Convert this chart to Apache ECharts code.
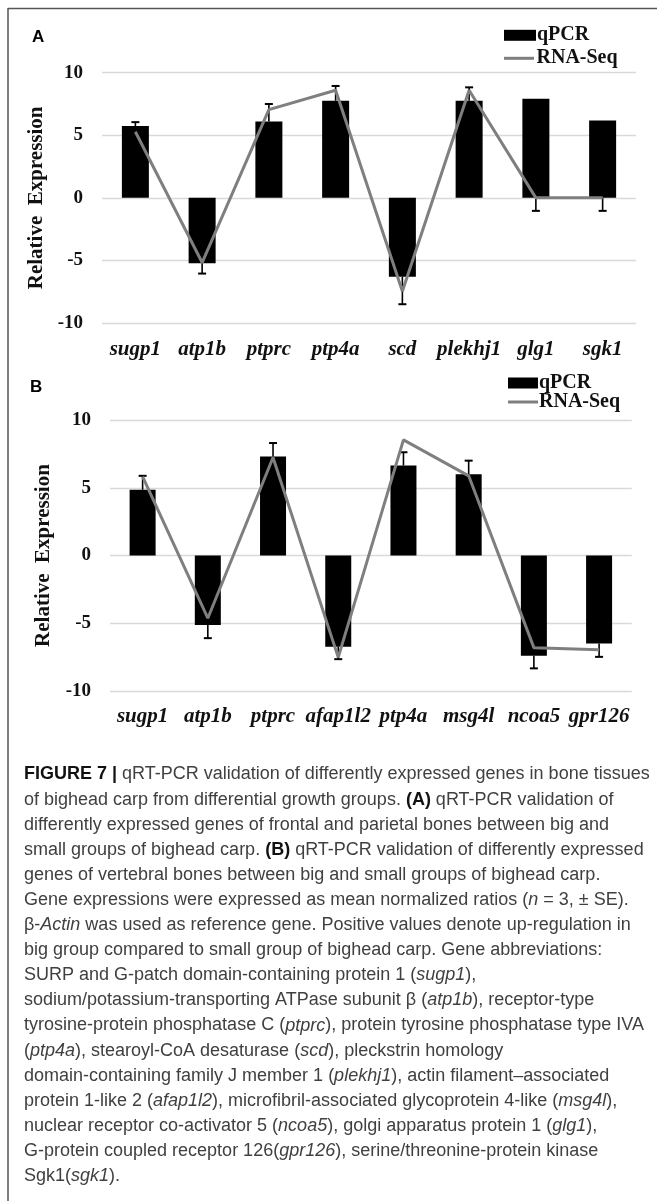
<!DOCTYPE html>
<html>
<head>
<meta charset="utf-8">
<script src="https://cdn.jsdelivr.net/npm/echarts@6.0.0/dist/echarts.min.js"></script>
<style>
  html, body { margin: 0; padding: 0; background: #fff; }
  #chart { width: 657px; height: 1201px; }
</style>
</head>
<body>
<div id="chart"></div>
<script>
// Panel A: frontal and parietal bones
const genesA = ['sugp1', 'atp1b', 'ptprc', 'ptp4a', 'scd', 'plekhj1', 'glg1', 'sgk1'];
const qpcrA = [5.74, -5.22, 6.1, 7.76, -6.3, 7.76, 7.92, 6.19];
const rnaSeqA = [5.28, -5.17, 7.05, 8.6, -7.46, 8.6, 0, 0];
const errFromA = [5.74, -5.22, 6.1, 7.76, -6.3, 7.76, 0, 0];
const errToA = [6.05, -6.05, 7.5, 8.94, -8.5, 8.83, -1.04, -1.04];

// Panel B: vertebral bones
const genesB = ['sugp1', 'atp1b', 'ptprc', 'afap1l2', 'ptp4a', 'msg4l', 'ncoa5', 'gpr126'];
const qpcrB = [4.85, -5.12, 7.3, -6.74, 6.64, 6.0, -7.4, -6.5];
const rnaSeqB = [5.83, -4.63, 7.23, -7.52, 8.53, 5.88, -6.8, -6.95];
const errFromB = qpcrB.slice();
const errToB = [5.88, -6.1, 8.3, -7.65, 7.62, 7.0, -8.33, -7.48];

const yTicks = { min: -10, max: 10, interval: 5 };
const yTitle = 'Relative  Expression';

const captionLines = [
  '{b|FIGURE 7 |} qRT-PCR validation of differently expressed genes in bone tissues',
  'of bighead carp from differential growth groups. {b|(A)} qRT-PCR validation of',
  'differently expressed genes of frontal and parietal bones between big and',
  'small groups of bighead carp. {b|(B)} qRT-PCR validation of differently expressed',
  'genes of vertebral bones between big and small groups of bighead carp.',
  'Gene expressions were expressed as mean normalized ratios ({i|n} = 3, \u00b1 SE).',
  '\u03b2-{i|Actin} was used as reference gene. Positive values denote up-regulation in',
  'big group compared to small group of bighead carp. Gene abbreviations:',
  'SURP and G-patch domain-containing protein 1 ({i|sugp1}),',
  'sodium/potassium-transporting ATPase subunit \u03b2 ({i|atp1b}), receptor-type',
  'tyrosine-protein phosphatase C ({i|ptprc}), protein tyrosine phosphatase type IVA',
  '({i|ptp4a}), stearoyl-CoA desaturase ({i|scd}), pleckstrin homology',
  'domain-containing family J member 1 ({i|plekhj1}), actin filament\u2013associated',
  'protein 1-like 2 ({i|afap1l2}), microfibril-associated glycoprotein 4-like ({i|msg4l}),',
  'nuclear receptor co-activator 5 ({i|ncoa5}), golgi apparatus protein 1 ({i|glg1}),',
  'G-protein coupled receptor 126({i|gpr126}), serine/threonine-protein kinase',
  'Sgk1({i|sgk1}).'
];

const SERIF = '"Liberation Serif", "Times New Roman", serif';
const CAPTION_FONT = '"Liberation Sans", Arial, sans-serif';
const GRID_GRAY = '#d9d9d9';
const LINE_GRAY = '#7f7f7f';

function yAxisFor(gridIndex, nameGap) {
  return {
    gridIndex, type: 'value', min: yTicks.min, max: yTicks.max, interval: yTicks.interval,
    name: yTitle, nameLocation: 'middle', nameGap,
    nameTextStyle: { fontFamily: SERIF, fontWeight: 'bold', fontSize: 21, color: '#111' },
    axisLine: { show: false }, axisTick: { show: false },
    axisLabel: { fontFamily: SERIF, fontWeight: 'bold', fontSize: 19, color: '#111', margin: 19 },
    splitLine: { lineStyle: { color: GRID_GRAY, width: 1.3 } }
  };
}

function xAxisFor(gridIndex, cats, margin) {
  return {
    gridIndex, type: 'category', data: cats, position: 'bottom',
    axisLine: { show: false }, axisTick: { show: false },
    axisLabel: { fontFamily: SERIF, fontWeight: 'bold', fontStyle: 'italic', fontSize: 21, color: '#111', margin, interval: 0 }
  };
}

// Error bar: vertical stem from the mark end to the cap
function errorSeries(idx, from, to) {
  return {
    type: 'custom', xAxisIndex: idx, yAxisIndex: idx, z: 3,
    data: from.map((v, i) => [i, v, to[i]]),
    renderItem(params, api) {
      const a = api.coord([api.value(0), api.value(1)]);
      const b = api.coord([api.value(0), api.value(2)]);
      const half = 4;
      return {
        type: 'group',
        children: [
          { type: 'line', shape: { x1: a[0], y1: a[1], x2: b[0], y2: b[1] }, style: { stroke: '#000', lineWidth: 1.6 } },
          { type: 'line', shape: { x1: b[0] - half, y1: b[1], x2: b[0] + half, y2: b[1] }, style: { stroke: '#000', lineWidth: 2 } }
        ]
      };
    }
  };
}

function barSeries(idx, data, width) {
  return { type: 'bar', name: 'qPCR', xAxisIndex: idx, yAxisIndex: idx, data, barWidth: width, itemStyle: { color: '#000' }, z: 2 };
}

function lineSeries(idx, data) {
  return {
    type: 'line', name: 'RNA-Seq', xAxisIndex: idx, yAxisIndex: idx, data,
    symbol: 'none', showSymbol: false, z: 4,
    lineStyle: { color: LINE_GRAY, width: 3 }, itemStyle: { color: LINE_GRAY }
  };
}

function legendItem(name, icon, left, top, w, h) {
  return {
    left, top, padding: 0, itemWidth: w, itemHeight: h, selectedMode: false,
    data: [{ name, icon }],
    textStyle: { fontFamily: SERIF, fontWeight: 'bold', fontSize: 20, color: '#111', lineHeight: 20, padding: [0, 0, 0, -4] }
  };
}

const captionGraphics = captionLines.map((line, i) => ({
  type: 'text', left: 24, top: 777 - 11.5 + i * 25.1,
  style: {
    text: line, fill: '#404040', font: '18px ' + CAPTION_FONT,
    rich: {
      b: { fontWeight: 'bold', fill: '#111', fontFamily: 'Liberation Sans', fontSize: 18 },
      i: { fontStyle: 'italic', fill: '#404040', fontFamily: 'Liberation Sans', fontSize: 18 }
    }
  }
}));

const chart = echarts.init(document.getElementById('chart'), null, { renderer: 'canvas' });
chart.setOption({
  animation: false,
  backgroundColor: '#fff',
  grid: [
    { left: 102, right: 21, top: 72.7, height: 250.3 },
    { left: 110, right: 25.3, top: 420, height: 271 }
  ],
  xAxis: [xAxisFor(0, genesA, 16), xAxisFor(1, genesB, 15)],
  yAxis: [yAxisFor(0, 49), yAxisFor(1, 56)],
  legend: [
    legendItem('qPCR', 'rect', 504, 25.3, 32, 11),
    legendItem('RNA-Seq', 'path://M0,0H10V1H0Z', 504, 48.3, 33, 3),
    legendItem('qPCR', 'rect', 508, 373, 30, 11),
    legendItem('RNA-Seq', 'path://M0,0H10V1H0Z', 508, 392, 30, 3)
  ],
  series: [
    barSeries(0, qpcrA, 27), errorSeries(0, errFromA, errToA), lineSeries(0, rnaSeqA),
    barSeries(1, qpcrB, 26), errorSeries(1, errFromB, errToB), lineSeries(1, rnaSeqB)
  ],
  graphic: [
    // frame lines along the top and left edges
    { type: 'line', shape: { x1: 8, y1: 8.5, x2: 657, y2: 8.5 }, style: { stroke: '#555', lineWidth: 1.5 } },
    { type: 'line', shape: { x1: 8, y1: 8, x2: 8, y2: 1201 }, style: { stroke: '#555', lineWidth: 1.5 } },
    { type: 'text', left: 32, top: 29, style: { text: 'A', font: 'bold 17px "Liberation Sans", Arial, sans-serif', fill: '#000' } },
    { type: 'text', left: 30, top: 378.5, style: { text: 'B', font: 'bold 17px "Liberation Sans", Arial, sans-serif', fill: '#000' } },
    ...captionGraphics
  ]
});
</script>
</body>
</html>
